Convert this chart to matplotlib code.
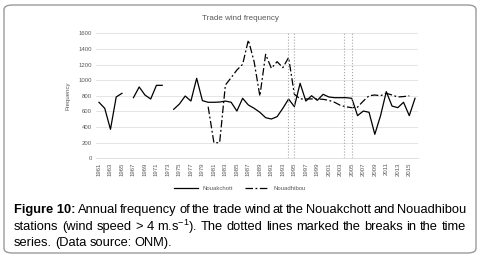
import matplotlib
matplotlib.use("Agg")
import matplotlib.pyplot as plt
import numpy as np
from matplotlib.patches import FancyBboxPatch

nan = np.nan

# --- data ---
years = list(range(1961, 2017))
nouakchott = [717, 640, 371, 785, 832, nan, 776, 913, 810, 759, 934, 934, nan,
              627, 695, 797, 733, 1024, 738,
              717, 717, 720, 733, 717, 605, 768, 682, 640, 589, 520, 503, 533,
              640, 759, 661, 960,
              733, 801, 742, 819, 785, 776, 776, 776, 768, 546, 605, 589, 307,
              546, 853, 669, 648, 717, 546, 768]
nouadhibou = [nan] * 19 + [660, 200, 200, 938, 1032, 1130, 1203, 1514, 1237,
                           797, 1331, 1152, 1237, 1160, 1290, 820, 760,
                           759, 760, 759, 755, 742, 717, 678, 659, 648, 655,
                           733, 801, 810, 801, 832, 810, 785, 790, 800, nan]
breaks = [1993.85, 1995.0, 2003.7, 2005.0]
tick_years = list(range(1961, 2016, 2))
y_ticks = list(range(0, 1601, 200))

grey = '#595959'
plt.rcParams['font.family'] = ['Liberation Sans', 'DejaVu Sans']
plt.rcParams['mathtext.fontset'] = 'custom'
plt.rcParams['mathtext.rm'] = 'Liberation Sans'

fig = plt.figure(figsize=(4.8, 2.57), dpi=100)
W, H = 480, 257

# outer rounded frame
frame = FancyBboxPatch((4 / W, 4 / H), 472 / W, 248 / H,
                       boxstyle='round,pad=0,rounding_size=0.018',
                       transform=fig.transFigure, fill=False,
                       edgecolor='#9a9a9a', linewidth=1.0)
fig.patches.append(frame)

ax = fig.add_axes([96.1 / W, 98.7 / H, 321.8 / W, 125 / H])
ax.plot(years, nouakchott, color='black', linewidth=0.9, label='Nouakchott')
ax.plot(years, nouadhibou, color='black', linewidth=0.9,
        dashes=(6, 2, 1.5, 2), label='Nouadhibou')
for b in breaks:
    ax.axvline(b, color='#a6a6a6', linestyle=':', linewidth=0.8)

ax.set_xlim(1960.5, 2016.5)
ax.set_ylim(0, 1600)
ax.set_xticks(tick_years)
ax.set_xticklabels([str(y) for y in tick_years], rotation=90)
ax.set_yticks(y_ticks)
ax.tick_params(length=0, labelsize=4.3, colors=grey, pad=3)
ax.grid(axis='y', color='#e0e0e0', linewidth=0.6)
ax.set_axisbelow(True)
for s in ['top', 'right', 'left']:
    ax.spines[s].set_visible(False)
ax.spines['bottom'].set_color('#d9d9d9')
ax.spines['bottom'].set_linewidth(0.6)
ax.set_ylabel('Frequency', fontsize=4.3, color=grey, labelpad=6)

fig.text(0.5, 1 - 19 / H, 'Trade wind frequency', ha='center', va='center',
         fontsize=5.8, color=grey)

fig.legend(loc='center', bbox_to_anchor=(0.5, 1 - 188 / H), ncol=2,
           frameon=False, fontsize=4.3, handlelength=4, columnspacing=2,
           labelcolor=grey)

# --- justified caption ---
lines = [
    [('Figure 10:', 'bold'), ('Annual', 'normal'), ('frequency', 'normal'),
     ('of', 'normal'), ('the', 'normal'), ('trade', 'normal'),
     ('wind', 'normal'), ('at', 'normal'), ('the', 'normal'),
     ('Nouakchott', 'normal'), ('and', 'normal'), ('Nouadhibou', 'normal')],
    [('stations', 'normal'), ('(wind', 'normal'), ('speed', 'normal'),
     ('>', 'normal'), ('4', 'normal'), ('m.s$^{-1}$).', 'normal'),
     ('The', 'normal'), ('dotted', 'normal'), ('lines', 'normal'),
     ('marked', 'normal'), ('the', 'normal'), ('breaks', 'normal'),
     ('in', 'normal'), ('the', 'normal'), ('time', 'normal')],
    [('series.', 'normal'), ('(Data', 'normal'), ('source:', 'normal'),
     ('ONM).', 'normal')],
]
line_y = [210, 227, 243]
x_left, x_right = 14, 466
renderer = fig.canvas.get_renderer()
for i, (words, yy) in enumerate(zip(lines, line_y)):
    texts = [fig.text(0, 1 - yy / H, w, fontsize=9.3, fontweight=wt,
                      va='center', ha='left', color='black')
             for w, wt in words]
    widths = [t.get_window_extent(renderer).width for t in texts]
    if i < len(lines) - 1:
        gap = (x_right - x_left - sum(widths)) / (len(words) - 1)
    else:
        gap = 3.0
    x = x_left
    for t, w in zip(texts, widths):
        t.set_x(x / W)
        x += w + gap

fig.savefig('out.png', dpi=100)
